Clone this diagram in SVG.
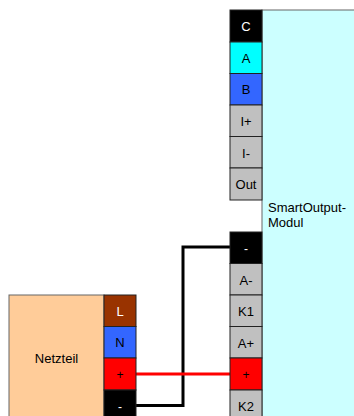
<svg xmlns="http://www.w3.org/2000/svg" width="354" height="416" viewBox="0 0 354 416">
<style>
text{font-family:"Liberation Sans",Arial,sans-serif;font-size:13px;fill:#000;text-anchor:middle}
.s{font-size:12px}
.t{stroke:#222;stroke-width:1}
.g{fill:#c0c0c0}.k{fill:#000}.c{fill:#00ffff}.b{fill:#3366ff}.r{fill:#ff0000}.br{fill:#993300}
.w{fill:none;stroke-width:3}
</style>
<rect width="354" height="416" fill="#fff"/>
<g id="module">
<rect x="262" y="10" width="100" height="420" fill="#ccffff" stroke="#666" stroke-width="1"/>
<text x="268" y="212" style="text-anchor:start">SmartOutput-</text>
<text x="268" y="227" style="text-anchor:start">Modul</text>
</g>
<g id="netzteil">
<rect x="9" y="295" width="95" height="130" fill="#ffcc99" stroke="#666" stroke-width="1"/>
<text x="56.500" y="362.500">Netzteil</text>
</g>
<g id="connectors">
<path class="w" stroke="#000" d="M136 405.500H183V247H230"/>
<path class="w" stroke="#ff0000" d="M136 374H230"/>
</g>
<g id="term-C"><rect class="t k" x="230" y="10" width="32" height="32"/><text x="246" y="31" style="fill:#fff">C</text></g>
<g id="term-A"><rect class="t c" x="230" y="42" width="32" height="31.500"/><text x="246" y="63">A</text></g>
<g id="term-B"><rect class="t b" x="230" y="73.500" width="32" height="31.500"/><text x="246" y="94">B</text></g>
<g id="term-Iplus"><rect class="t g" x="230" y="105" width="32" height="31.500"/><text x="246" y="126">I+</text></g>
<g id="term-Iminus"><rect class="t g" x="230" y="136.500" width="32" height="31.500"/><text x="246" y="158">I-</text></g>
<g id="term-Out"><rect class="t g" x="230" y="168" width="32" height="32"/><text x="246" y="189">Out</text></g>
<g id="term-minus"><rect class="t k" x="230" y="232" width="32" height="31.500"/><text class="s" x="246" y="253" style="fill:#fff">-</text></g>
<g id="term-Aminus"><rect class="t g" x="230" y="263.500" width="32" height="31.500"/><text x="246" y="284.500">A-</text></g>
<g id="term-K1"><rect class="t g" x="230" y="295" width="32" height="31.500"/><text x="246" y="316">K1</text></g>
<g id="term-Aplus"><rect class="t g" x="230" y="326.500" width="32" height="31.500"/><text x="246" y="347.500">A+</text></g>
<g id="term-plus"><rect class="t r" x="230" y="358" width="32" height="32"/><text class="s" x="246" y="379">+</text></g>
<g id="term-K2"><rect class="t g" x="230" y="390" width="32" height="32"/><text x="246" y="411">K2</text></g>
<g id="net-L"><rect class="t br" x="104" y="295" width="32" height="31.500"/><text x="120" y="316" style="fill:#fff">L</text></g>
<g id="net-N"><rect class="t b" x="104" y="326.500" width="32" height="31.500"/><text x="120" y="347">N</text></g>
<g id="net-plus"><rect class="t r" x="104" y="358" width="32" height="32"/><text class="s" x="120" y="379">+</text></g>
<g id="net-minus"><rect class="t k" x="104" y="390" width="32" height="32"/><text class="s" x="120" y="411" style="fill:#fff">-</text></g>
</svg>
